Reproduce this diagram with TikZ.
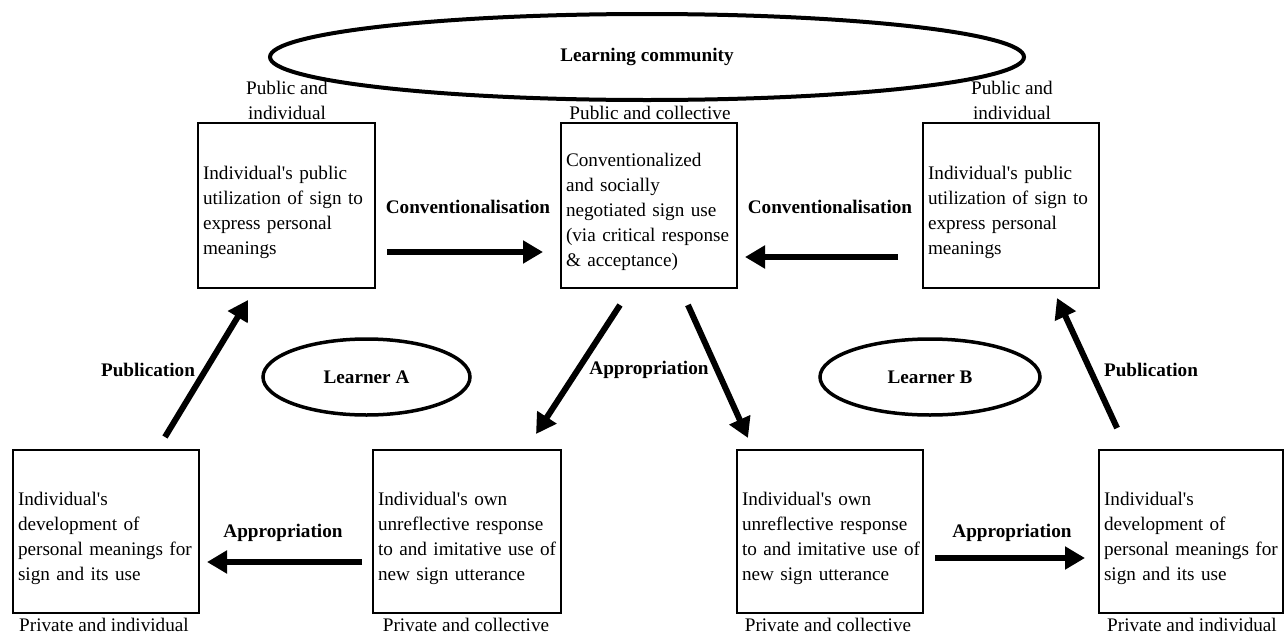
\documentclass[tikz,border=0pt]{standalone}
\usepackage{fontspec}
\setmainfont{Liberation Serif}
\usetikzlibrary{arrows.meta,shapes.geometric}
\newcommand{\bline}[1]{\mbox{#1}}
\newcommand{\apos}{\textquotesingle}
\newcommand{\firststrut}{\rule{0pt}{27pt}}
\tikzset{
  base/.style={font=\fontsize{19.2}{25}\selectfont},
  box/.style={base, draw, line width=2.2pt, outer sep=0pt, minimum height=165pt,
              inner xsep=5pt, inner ysep=0pt, align=left},
  lbl/.style={base, align=center, inner sep=0pt},
  blbl/.style={base, font=\fontsize{19.2}{25}\selectfont\bfseries, inner sep=0pt},
  oval/.style={draw, ellipse, outer sep=0pt, inner sep=0pt,
               font=\fontsize{19.2}{25}\selectfont\bfseries},
  arr/.style={line width=6pt, -{Triangle[length=20pt,width=22pt]}}
}
\begin{document}
\begin{tikzpicture}[x=1pt,y=-1pt]
\useasboundingbox (0,0) rectangle (1286,635);

% ellipses
\node[oval, line width=4pt, minimum width=754pt, minimum height=86pt] (lc) at (647,57) {Learning community};
\node[oval, line width=3.5pt, minimum width=207pt, minimum height=76pt] (la) at (366.5,377) {Learner A};
\node[oval, line width=3.5pt, minimum width=220pt, minimum height=76pt] (lb) at (930,377) {Learner B};

% top boxes
\node[box, text width=167pt] (tl) at (286.5,205.5) {\firststrut\bline{Individual\apos s public}\\\bline{utilization of sign to}\\\bline{express personal}\\\bline{meanings}};
\node[box, text width=166pt] (mid) at (649,205.5) {\firststrut\bline{Conventionalized}\\\bline{and socially}\\\bline{negotiated sign use}\\\bline{(via critical response}\\\bline{\& acceptance)}};
\node[box, text width=166pt] (tr) at (1011,205.5) {\firststrut\bline{Individual\apos s public}\\\bline{utilization of sign to}\\\bline{express personal}\\\bline{meanings}};

% bottom boxes
\node[box, text width=176pt, minimum height=163pt] (bl) at (106,531.5) {\firststrut\bline{Individual\apos s}\\\bline{development of}\\\bline{personal meanings for}\\\bline{sign and its use}};
\node[box, text width=178pt, minimum height=163pt] (bl2) at (467,531.5) {\firststrut\bline{Individual\apos s own}\\\bline{unreflective response}\\\bline{to and imitative use of}\\\bline{new sign utterance}};
\node[box, text width=176pt, minimum height=163pt] (br2) at (830,531.5) {\firststrut\bline{Individual\apos s own}\\\bline{unreflective response}\\\bline{to and imitative use of}\\\bline{new sign utterance}};
\node[box, text width=174pt, minimum height=163pt] (br) at (1191,531.5) {\firststrut\bline{Individual\apos s}\\\bline{development of}\\\bline{personal meanings for}\\\bline{sign and its use}};

% region labels
\node[lbl] (ltl) at (287,100) {Public and\\individual};
\node[lbl] (lmid) at (650,113) {Public and collective};
\node[lbl] (ltr) at (1012,100) {Public and\\individual};
\node[lbl] (lbl1) at (104,625) {Private and individual};
\node[lbl] (lbl2) at (466,625) {Private and collective};
\node[lbl] (lbl3) at (828,625) {Private and collective};
\node[lbl] (lbl4) at (1192,625) {Private and individual};

% process labels
\node[blbl] (c1) at (468,207) {Conventionalisation};
\node[blbl] (c2) at (830,207) {Conventionalisation};
\node[blbl] (p1) at (148,370) {Publication};
\node[blbl] (p2) at (1151,370) {Publication};
\node[blbl] (a0) at (649,370) {Appropriation};
\node[blbl] (a1) at (283,533) {Appropriation};
\node[blbl] (a2) at (1012,533) {Appropriation};

% connectors
\draw[arr, shorten <=12pt, shorten >=18pt] ([yshift=-46.5pt]tl.east) -- ([yshift=-46.5pt]mid.west);
\draw[arr, shorten <=25pt, shorten >=8pt] ([yshift=-51.5pt]tr.west) -- ([yshift=-51.5pt]mid.east);
\draw[arr, shorten <=11pt, shorten >=8pt] ([yshift=-30.5pt]bl2.west) -- ([yshift=-30.5pt]bl.east);
\draw[arr, shorten <=12pt, shorten >=14pt] ([yshift=-26.5pt]br2.east) -- ([yshift=-26.5pt]br.west);

\draw[arr, shorten <=15.2pt, shorten >=14pt] ([xshift=51.1pt]bl.north) -- ([xshift=-31.2pt]tl.south);
\draw[arr, shorten <=20.3pt, shorten >=19.1pt] ([xshift=-17.9pt]mid.south) -- ([xshift=58.6pt]bl2.north);
\draw[arr, shorten <=18.6pt, shorten >=13.2pt] ([xshift=31.3pt]mid.south) -- ([xshift=-76.6pt]br2.north);
\draw[arr, shorten <=24.2pt, shorten >=11pt] ([xshift=-63.8pt]br.north) -- ([xshift=41.4pt]tr.south);
\end{tikzpicture}
\end{document}
